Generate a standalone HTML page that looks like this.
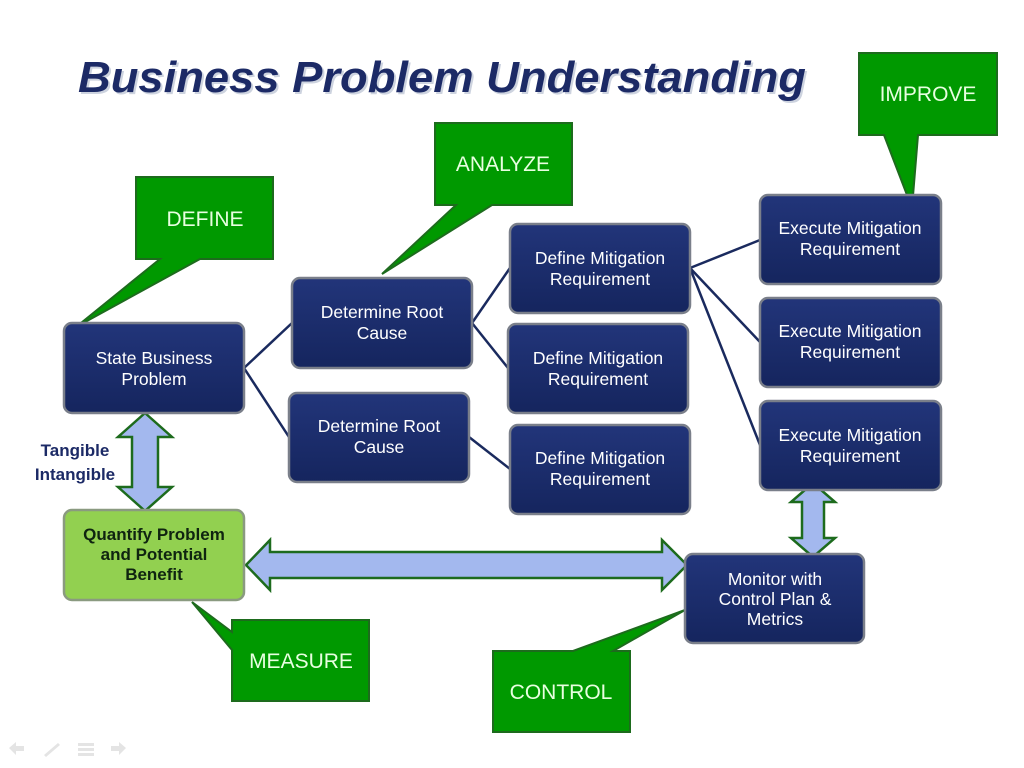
<!DOCTYPE html>
<html><head><meta charset="utf-8"><style>
html,body{margin:0;padding:0;background:#fff;width:1024px;height:768px;overflow:hidden}
svg text{font-family:"Liberation Sans",Arial,sans-serif}
</style></head><body>
<svg width="1024" height="768" viewBox="0 0 1024 768" xmlns="http://www.w3.org/2000/svg">
<defs>
<linearGradient id="nv" x1="0" y1="0" x2="0" y2="1"><stop offset="0" stop-color="#22357a"/><stop offset="1" stop-color="#15255e"/></linearGradient>
</defs>
<text x="80" y="94" font-size="44" font-weight="bold" font-style="italic" fill="#cdd3df" textLength="728" lengthAdjust="spacingAndGlyphs">Business Problem Understanding</text>
<text x="78" y="92" font-size="44" font-weight="bold" font-style="italic" fill="#1c2a66" textLength="728" lengthAdjust="spacingAndGlyphs">Business Problem Understanding</text>

<g stroke="#1a2a5e" stroke-width="2.5" fill="none">
<line x1="244" y1="368" x2="292" y2="323"/>
<line x1="244" y1="368" x2="289" y2="437"/>
<line x1="472" y1="323" x2="510" y2="268"/>
<line x1="472" y1="323" x2="508" y2="368"/>
<line x1="469" y1="437" x2="510" y2="469"/>
<line x1="690" y1="268" x2="760" y2="240"/>
<line x1="690" y1="268" x2="760" y2="342"/>
<line x1="690" y1="268" x2="760" y2="445"/>
</g>

<g fill="#009900" stroke="#1d6b1d" stroke-width="2">
<path d="M136,177 H273 V259 H200 L76,327 L160,259 H136 Z"/>
<path d="M435,123 H572 V205 H492 L382,274 L456,205 H435 Z"/>
<path d="M859,53 H997 V135 H918 L912,208 L884,135 H859 Z"/>
<path d="M232,620 H369 V701 H232 V650 L192,602 L232,632 Z"/>
<path d="M493,651 H573 L685,610 L613,651 H630 V732 H493 Z"/>
</g>
<g fill="#e8ffe0" font-size="21" text-anchor="middle">
<text x="205" y="226">DEFINE</text>
<text x="503" y="171">ANALYZE</text>
<text x="928" y="101">IMPROVE</text>
<text x="301" y="668">MEASURE</text>
<text x="561" y="699">CONTROL</text>
</g>

<g fill="#a3b8ee" stroke="#1d6b1d" stroke-width="2.5" stroke-linejoin="miter">
<path d="M145,413 L172,437 H158 V487 H172 L145,511 L118,487 H132 V437 H118 Z"/>
<path d="M246,565 L270,540 V552 H662 V540 L687,565 L662,590 V578 H270 V590 Z"/>
<path d="M813,483 L835,502 H824 V538 H835 L813,557 L791,538 H802 V502 H791 Z"/>
</g>
<text x="75" y="456" font-size="17" font-weight="bold" fill="#1c2a66" text-anchor="middle">Tangible</text>
<text x="75" y="480" font-size="17" font-weight="bold" fill="#1c2a66" text-anchor="middle">Intangible</text>

<g fill="url(#nv)" stroke="#7a7f8a" stroke-width="2.5">
<rect x="64" y="323" width="180" height="90" rx="8"/>
<rect x="292" y="278" width="180" height="90" rx="8"/>
<rect x="289" y="393" width="180" height="89" rx="8"/>
<rect x="510" y="224" width="180" height="89" rx="8"/>
<rect x="508" y="324" width="180" height="89" rx="8"/>
<rect x="510" y="425" width="180" height="89" rx="8"/>
<rect x="760" y="195" width="181" height="89" rx="8"/>
<rect x="760" y="298" width="181" height="89" rx="8"/>
<rect x="760" y="401" width="181" height="89" rx="8"/>
<rect x="685" y="554" width="179" height="89" rx="8"/>
</g>
<rect x="64" y="510" width="180" height="90" rx="8" fill="#92d050" stroke="#8a9a80" stroke-width="2.5"/>

<g fill="#fff" font-size="17.5" text-anchor="middle">
<text x="154" y="364">State Business</text><text x="154" y="385">Problem</text>
<text x="382" y="318">Determine Root</text><text x="382" y="339">Cause</text>
<text x="379" y="432">Determine Root</text><text x="379" y="453">Cause</text>
<text x="600" y="264">Define Mitigation</text><text x="600" y="285">Requirement</text>
<text x="598" y="364">Define Mitigation</text><text x="598" y="385">Requirement</text>
<text x="600" y="464">Define Mitigation</text><text x="600" y="485">Requirement</text>
<text x="850" y="234">Execute Mitigation</text><text x="850" y="255">Requirement</text>
<text x="850" y="337">Execute Mitigation</text><text x="850" y="358">Requirement</text>
<text x="850" y="441">Execute Mitigation</text><text x="850" y="462">Requirement</text>
<text x="775" y="585">Monitor with</text><text x="775" y="605">Control Plan &amp;</text><text x="775" y="625">Metrics</text>
</g>
<g fill="#0f2410" font-size="17" font-weight="bold" text-anchor="middle">
<text x="154" y="540">Quantify Problem</text><text x="154" y="560">and Potential</text><text x="154" y="580">Benefit</text>
</g>

<g fill="#e4e4e4">
<path d="M9,748 L16,742 V746 H24 V751 H16 V755 Z"/>
<path d="M44,755 L58,743 L60,745 L46,757 Z"/>
<rect x="78" y="743" width="16" height="3"/><rect x="78" y="748" width="16" height="3"/><rect x="78" y="753" width="16" height="3"/>
<path d="M126,748 L119,742 V746 H111 V751 H119 V755 Z"/>
</g>
</svg>
</body></html>
